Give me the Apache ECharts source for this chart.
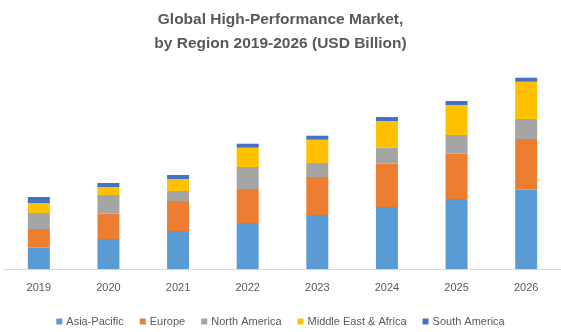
<!DOCTYPE html>
<html><head><meta charset="utf-8">
<script src="https://cdn.jsdelivr.net/npm/echarts@6/dist/echarts.min.js"></script>
<style>html,body{margin:0;padding:0;background:#fff}#c{width:561px;height:332px}</style>
</head><body><div id="c"></div>
<script>
const categories = ['2019','2020','2021','2022','2023','2024','2025','2026'];
const asiaPacific = [21.3, 30, 38, 46, 54, 62, 70, 79.3];
const europe = [18.7, 25.3, 30, 34, 38, 43.3, 45.3, 50.7];
const northAmerica = [16, 18.7, 10, 22, 14, 16, 18.7, 20];
const middleEastAfrica = [10, 8, 12, 19.3, 23.3, 26.7, 30, 37.3];
const southAmerica = [6, 4, 4, 4, 4, 4, 4, 4];
const seriesNames = ['Asia-Pacific','Europe','North America','Middle East & Africa','South America'];
const colors = ['#5b9bd5','#ed7d31','#a5a5a5','#ffc000','#4472c4'];
const data = [asiaPacific, europe, northAmerica, middleEastAfrica, southAmerica];

const chart = echarts.init(document.getElementById('c'), null, {renderer:'canvas'});
chart.setOption({
  animation:false,
  title:{
    text:'Global High-Performance Market,\nby Region 2019-2026 (USD Billion)',
    left:'center', top:3,
    textStyle:{fontFamily:'Liberation Sans', fontSize:15.5, fontWeight:'bold', color:'#595959', lineHeight:24}
  },
  legend:{
    top:311, left:'center', itemWidth:6, itemHeight:6, itemGap:16, icon:'rect',
    textStyle:{fontFamily:'Liberation Sans', fontSize:11, color:'#595959', padding:[0,0,0,-1]},
    data:seriesNames
  },
  grid:{left:4, right:-3, top:69, bottom:63},
  xAxis:{
    type:'category', data:categories,
    axisLine:{lineStyle:{color:'#d9d9d9', width:1}},
    axisTick:{show:false},
    axisLabel:{fontFamily:'Liberation Sans', fontSize:11, color:'#595959', margin:13}
  },
  yAxis:{type:'value', min:0, max:200, show:false, splitLine:{show:false}},
  series: seriesNames.map((n,i)=>({
    name:n, type:'bar', stack:'total', barWidth:22,
    itemStyle:{color:colors[i]}, data:data[i]
  }))
});
</script></body></html>
